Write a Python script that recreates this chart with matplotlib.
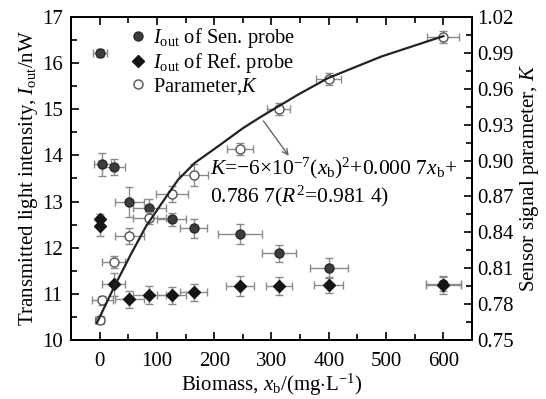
import numpy as np
import matplotlib
matplotlib.use('Agg')
import matplotlib.pyplot as plt
from matplotlib.lines import Line2D
from matplotlib.ticker import MultipleLocator

plt.rcParams['font.family'] = ['Liberation Serif', 'DejaVu Serif']
plt.rcParams['mathtext.fontset'] = 'custom'
plt.rcParams['mathtext.rm'] = 'Liberation Serif'
plt.rcParams['mathtext.it'] = 'Liberation Serif:italic'

# sensing probe output (left axis)
sen_x = [0, 5, 25, 52, 87, 126, 164, 245, 313, 400, 600]
sen_y = [16.22, 13.81, 13.75, 12.99, 12.86, 12.62, 12.42, 12.29, 11.88, 11.56, 11.21]
sen_xerr = [12, 15, 20, 25, 28, 25, 24, 38, 30, 33, 30]
sen_yerr = [0.08, 0.25, 0.18, 0.33, 0.2, 0.14, 0.2, 0.22, 0.18, 0.22, 0.15]

# reference probe output (left axis)
ref_x = [0, 0, 25, 52, 87, 126, 164, 245, 313, 400, 600]
ref_y = [12.62, 12.47, 11.21, 10.88, 10.97, 10.97, 11.03, 11.17, 11.17, 11.19, 11.19]
ref_xerr = [0, 0, 20, 25, 28, 25, 24, 25, 22, 25, 30]
ref_yerr = [0.12, 0.22, 0.25, 0.18, 0.2, 0.18, 0.18, 0.22, 0.2, 0.17, 0.2]

# sensor parameter K (right axis)
k_x = [0, 5, 25, 52, 87, 126, 164, 245, 313, 400, 600]
k_y = [0.767, 0.783, 0.815, 0.837, 0.852, 0.872, 0.888, 0.910, 0.943, 0.968, 1.0035]
k_xerr = [8, 18, 20, 25, 28, 28, 26, 22, 20, 22, 28]
k_yerr = [0.003, 0.004, 0.005, 0.007, 0.005, 0.007, 0.009, 0.005, 0.005, 0.005, 0.005]

# fitted curve as drawn in the figure
fit_x = [-5, 26, 55, 81, 108, 137, 166, 210, 250, 283, 346, 399, 492, 600]
fit_k = [0.764, 0.795, 0.822, 0.845, 0.864, 0.884, 0.898, 0.913, 0.927, 0.937, 0.955, 0.969, 0.987, 1.004]

fig = plt.figure(figsize=(5.46, 3.99), dpi=100)
ax = fig.add_axes([0.130, 0.148, 0.7345, 0.8094])
ax2 = ax.twinx()

ecol = '#8a8a8a'
ax.errorbar(sen_x, sen_y, xerr=sen_xerr, yerr=sen_yerr, fmt='o', ms=6.5,
            mfc='#3d3d3d', mec='#2a2a2a', ecolor=ecol, elinewidth=1, capsize=3, zorder=3)
ax.errorbar(ref_x, ref_y, xerr=ref_xerr, yerr=ref_yerr, fmt='D', ms=6,
            mfc='#151515', mec='#151515', ecolor=ecol, elinewidth=1, capsize=3, zorder=3)
ax2.errorbar(k_x, k_y, xerr=k_xerr, yerr=k_yerr, fmt='o', ms=6.5,
             mfc='white', mec='#555555', mew=1, ecolor=ecol, elinewidth=1, capsize=3, zorder=3)
ax2.plot(fit_x, fit_k, color='#222222', lw=1.6, zorder=4)

ax.set_xlim(-50, 650)
ax.set_ylim(10, 17)
ax2.set_ylim(0.75, 1.02)
ax.set_xticks(np.arange(0, 601, 100))
ax.xaxis.set_minor_locator(MultipleLocator(50))
ax.yaxis.set_major_locator(MultipleLocator(1))
ax.yaxis.set_minor_locator(MultipleLocator(0.5))
ax2.set_yticks(np.arange(0.75, 1.021, 0.03))
ax2.set_yticklabels(['%.2f' % v for v in np.arange(0.75, 1.021, 0.03)])
ax2.yaxis.set_minor_locator(MultipleLocator(0.015))

for a in (ax, ax2):
    for s in a.spines.values():
        s.set_linewidth(1.4)
ax.tick_params(which='both', direction='in', top=True, labelsize=15, width=1.2)
ax.tick_params(which='major', length=6)
ax.tick_params(which='minor', length=4, top=True)
ax.tick_params(axis='x', pad=9)
ax.tick_params(axis='y', pad=6)
ax2.tick_params(which='both', direction='in', labelsize=15, width=1.2)
ax2.tick_params(which='major', length=6)
ax2.tick_params(which='minor', length=4)

ax.set_xlabel(r'Biomass, $x_{\rm b}$/(mg$\cdot$L$^{-1}$)', fontsize=15, labelpad=0)
ax.set_ylabel(r'Transmitted light intensity, $I_{\rm out}$/nW', fontsize=15, labelpad=1)
ax2.set_ylabel(r'Sensor signal parameter, $K$', fontsize=15, labelpad=3)

ax2.annotate('', xy=(333, 0.902), xytext=(283, 0.935),
             arrowprops=dict(arrowstyle='->', color='#666666', lw=1), zorder=5)
ax2.text(193, 0.882, r'$K$=$-$6$\times$10$^{-7}$($x_{\rm b}$)$^2$+0.000 7$x_{\rm b}$+' + '\n'
         + r'0.786 7($R^2$=0.981 4)', fontsize=15.5, va='center', ha='left',
         linespacing=1.15, zorder=5)

handles = [Line2D([], [], ls='', marker='o', ms=6.5, mfc='#3d3d3d', mec='#2a2a2a'),
           Line2D([], [], ls='', marker='D', ms=6, mfc='#151515', mec='#151515'),
           Line2D([], [], ls='', marker='o', ms=6.5, mfc='white', mec='#555555')]
labels = [r'$I_{\rm out}$ of Sen. probe', r'$I_{\rm out}$ of Ref. probe', r'Parameter,$K$']
ax2.legend(handles, labels, loc='upper left', bbox_to_anchor=(0.11, 1.01), frameon=False,
           fontsize=14.8, handlelength=1.0, handletextpad=0.25, labelspacing=0.05,
           borderaxespad=0.2)

fig.savefig('out.png', dpi=100)
